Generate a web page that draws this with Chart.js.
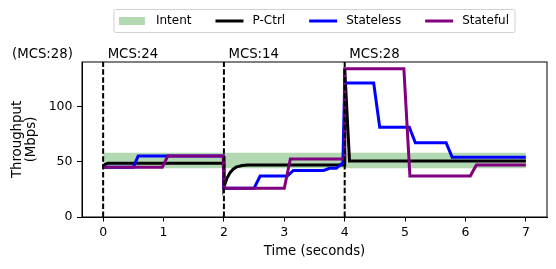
<!DOCTYPE html>
<html>
<head>
<meta charset="utf-8">
<script src="https://cdn.jsdelivr.net/npm/chart.js@4.4.1/dist/chart.umd.min.js"></script>
<style>
  html, body { margin: 0; padding: 0; background: #fff; }
  #wrap { width: 556px; height: 269px; position: relative; }
</style>
</head>
<body>
<div id="wrap"><canvas id="myChart"></canvas></div>
<script>
// ---- data ----
var xTicks = [0, 1, 2, 3, 4, 5, 6, 7];
var yTicks = [0, 50, 100];
var mcsTimes = [0, 2, 4];
var mcsLabels = ['MCS:24', 'MCS:14', 'MCS:28'];
var startLabel = '(MCS:28)';

var intentTimes = [0, 7];
var intentLow = [44, 44];
var intentHigh = [58, 58];

var pctrlTimes = [0, 0.03, 0.08, 1.99, 2.0, 2.05, 2.1, 2.15, 2.2, 2.3, 2.4, 3.99, 4.0, 4.08, 7.0];
var pctrlValues = [45, 47.5, 48.5, 48.5, 27, 35, 40, 43, 45, 46.5, 47, 47, 134, 50.6, 50.6];

var statelessTimes = [0, 0.5, 0.58, 1.99, 2.0, 2.5, 2.6, 3.05, 3.15, 3.65, 3.75, 3.86, 3.97, 4.0, 4.48, 4.58, 5.07, 5.17, 5.68, 5.78, 7.0];
var statelessValues = [45, 45, 55, 55, 26, 26, 37, 37, 42, 42, 44, 44, 49, 121, 121, 81, 81, 67, 67, 54, 54];

var statefulTimes = [0, 0.98, 1.07, 1.99, 2.0, 3.0, 3.1, 3.99, 4.0, 4.98, 5.08, 6.08, 6.18, 7.0];
var statefulValues = [45, 45, 55, 55, 26, 26, 52.5, 52.5, 134, 134, 37, 37, 47, 47];

function toPoints(times, values) {
    return times.map(function (t, i) { return { x: t, y: values[i] }; });
}

var FONT = 'DejaVu Sans';
Chart.defaults.font.family = FONT;
Chart.defaults.font.size = 12;
Chart.defaults.color = '#000';

// frame, dashed markers, MCS texts
var decoPlugin = {
    id: 'deco',
    afterDatasetsDraw: function (chart) {
        var c = chart.ctx, a = chart.chartArea, xs = chart.scales.x;
        c.save();
        c.strokeStyle = '#000';
        c.lineWidth = 2;
        c.setLineDash([5.5, 2.4]);
        mcsTimes.forEach(function (t) {
            var px = xs.getPixelForValue(t);
            c.beginPath();
            c.moveTo(px, a.bottom);
            c.lineTo(px, a.top);
            c.stroke();
        });
        c.restore();
    },
    afterDraw: function (chart) {
        var c = chart.ctx, a = chart.chartArea, xs = chart.scales.x;
        c.save();
        c.strokeStyle = '#000';
        c.lineWidth = 1;
        c.strokeRect(a.left, a.top, a.right - a.left, a.bottom - a.top);

        c.fillStyle = '#000';
        c.font = '13.3px "' + FONT + '"';
        c.textBaseline = 'alphabetic';
        c.textAlign = 'left';
        mcsTimes.forEach(function (t, i) {
            c.fillText(mcsLabels[i], xs.getPixelForValue(t) + 4.5, 57.5);
        });
        c.textAlign = 'right';
        c.fillText(startLabel, xs.getPixelForValue(-0.5), 57.5);

        // legend box
        c.font = '12px "' + FONT + '"';
        var items = chart.data.datasets.filter(function (d) { return d.label; });
        var handle = 28, handleGap = 9, colGap = 24, padL = 5, padR = 6;
        var total = padL + padR;
        items.forEach(function (d, i) {
            total += handle + handleGap + c.measureText(d.label).width + (i > 0 ? colGap : 0);
        });
        var bx = (a.left + a.right) / 2 - total / 2, by = 9.5, bh = 23;
        c.fillStyle = 'rgba(255,255,255,0.8)';
        c.strokeStyle = '#d0d0d0';
        c.lineWidth = 1;
        c.beginPath();
        c.roundRect(bx, by, total, bh, 2);
        c.fill();
        c.stroke();
        var cy = by + bh / 2;
        var x = bx + padL;
        c.textAlign = 'left';
        c.textBaseline = 'middle';
        items.forEach(function (d) {
            if (d.fill) {
                c.fillStyle = d.backgroundColor;
                c.fillRect(x, cy - 4, handle - 2, 8);
            } else {
                c.strokeStyle = d.borderColor;
                c.lineWidth = 3;
                c.beginPath();
                c.moveTo(x, cy);
                c.lineTo(x + handle, cy);
                c.stroke();
            }
            x += handle + handleGap;
            c.fillStyle = '#000';
            c.fillText(d.label, x, cy);
            x += c.measureText(d.label).width + colGap;
        });
        c.restore();
    }
};

var ctx = document.getElementById('myChart');
var myChart = new Chart(ctx, {
    type: 'line',
    data: {
        datasets: [{
            data: toPoints(intentTimes, intentLow),
            borderColor: 'transparent',
            borderWidth: 1,
            pointRadius: 0,
            fill: false,
            order: 11
        }, {
            label: 'Intent',
            data: toPoints(intentTimes, intentHigh),
            borderColor: 'transparent',
            backgroundColor: 'rgba(0, 128, 0, 0.3)',
            borderWidth: 1,
            pointRadius: 0,
            fill: '-1',
            order: 10
        }, {
            label: 'P-Ctrl',
            data: toPoints(pctrlTimes, pctrlValues),
            borderColor: '#000000',
            borderWidth: 3,
            pointRadius: 0,
            fill: false,
            order: 3
        }, {
            label: 'Stateless',
            data: toPoints(statelessTimes, statelessValues),
            borderColor: '#0000ff',
            borderWidth: 3,
            pointRadius: 0,
            fill: false,
            order: 2
        }, {
            label: 'Stateful',
            data: toPoints(statefulTimes, statefulValues),
            borderColor: '#800080',
            borderWidth: 3,
            pointRadius: 0,
            fill: false,
            order: 1
        }]
    },
    options: {
        responsive: true,
        maintainAspectRatio: false,
        animation: false,
        devicePixelRatio: 1,
        layout: { padding: { top: 62, right: 9, left: 0, bottom: 0 } },
        elements: { line: { tension: 0 } },
        plugins: {
            legend: { display: false },
            tooltip: { enabled: false },
            filler: { propagate: false }
        },
        scales: {
            x: {
                type: 'linear',
                min: -0.35,
                max: 7.35,
                afterBuildTicks: function (s) { s.ticks = xTicks.map(function (v) { return { value: v }; }); },
                afterFit: function (s) { s.height = 52; },
                grid: { drawOnChartArea: false, drawTicks: true, tickLength: 4.5, tickColor: '#000' },
                border: { display: true, color: '#000', width: 1 },
                ticks: { padding: 4, maxRotation: 0, color: '#000', font: { size: 12.5 } },
                title: { display: true, text: 'Time (seconds)', color: '#000', font: { size: 13.3, lineHeight: 1.2 }, padding: { top: 0, bottom: 9.5 } }
            },
            y: {
                min: 0,
                max: 140,
                afterBuildTicks: function (s) { s.ticks = yTicks.map(function (v) { return { value: v }; }); },
                afterFit: function (s) { s.width = 82; },
                grid: { drawOnChartArea: false, drawTicks: true, tickLength: 5, tickColor: '#000' },
                border: { display: true, color: '#000', width: 1 },
                ticks: { padding: 4.5, color: '#000', font: { size: 12.5 } },
                title: { display: true, text: ['Throughput', '(Mbps)'], color: '#000', font: { size: 13.3, lineHeight: 1.07 }, padding: { top: 10.4, bottom: 0 } }
            }
        }
    },
    plugins: [decoPlugin]
});
</script>
</body>
</html>
